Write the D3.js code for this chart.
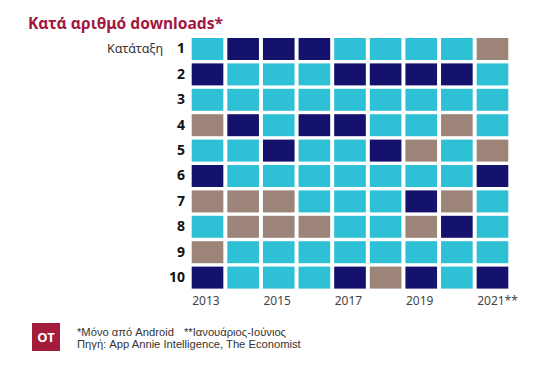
<!DOCTYPE html>
<html><head><meta charset="utf-8">
<script src="https://cdn.jsdelivr.net/npm/d3@7"></script>
<style>html,body{margin:0;padding:0;background:#fff;}svg{display:block;font-family:"Noto Sans","Open Sans",sans-serif;}</style>
</head><body>
<svg id="c" width="554" height="365"></svg>
<script>
const years = ["2013","2014","2015","2016","2017","2018","2019","2020","2021"];
const yearLabels = {"2013":"2013","2015":"2015","2017":"2017","2019":"2019","2021":"2021**"};
const ranks = [1,2,3,4,5,6,7,8,9,10];
// category per rank row, per year (C = cyan, N = navy, T = taupe)
const row1  = ["C","N","N","N","C","C","C","C","T"];
const row2  = ["N","C","C","C","N","N","N","N","C"];
const row3  = ["C","C","C","C","C","C","C","C","C"];
const row4  = ["T","N","C","N","N","C","C","T","C"];
const row5  = ["C","C","N","C","C","N","T","C","T"];
const row6  = ["N","C","C","C","C","C","C","C","N"];
const row7  = ["T","T","T","C","C","C","N","T","C"];
const row8  = ["C","T","T","T","C","C","T","N","C"];
const row9  = ["T","C","C","C","C","C","C","C","C"];
const row10 = ["N","C","C","C","N","T","N","C","N"];
const rows = [row1,row2,row3,row4,row5,row6,row7,row8,row9,row10];
const title = "Κατά αριθμό downloads*";
const rankLabel = "Κατάταξη";
const note1a = "*Μόνο από Android";
const note1b = "**Ιανουάριος-Ιούνιος";
const note2 = "Πηγή: App Annie Intelligence, The Economist";

const svg = d3.select("#c");
const color = d3.scaleOrdinal().domain(["C","N","T"]).range(["#2ec0d4","#14126c","#9c8479"]);
const x = d3.scaleBand().domain(years).range([191.7, 508.3]).paddingInner(0.112).paddingOuter(0);
const y = d3.scaleBand().domain(ranks).range([38, 288.6]).paddingInner(0.134).paddingOuter(0);

const cells = [];
rows.forEach((r,i)=>r.forEach((v,j)=>cells.push({rank:ranks[i], year:years[j], v})));
svg.append("g").selectAll("rect").data(cells).join("rect")
  .attr("x", d=>x(d.year)).attr("y", d=>y(d.rank))
  .attr("width", x.bandwidth()).attr("height", y.bandwidth())
  .attr("fill", d=>color(d.v));

// rank axis
const ay = svg.append("g").attr("transform","translate(185,0)")
  .call(d3.axisLeft(y).tickSize(0).tickPadding(0));
ay.select(".domain").remove();
ay.selectAll("text").attr("font-size",14).attr("font-weight","bold").attr("fill","#111").attr("font-family","'Noto Sans',sans-serif");

// year axis
const ax = svg.append("g").attr("transform","translate(0,296)")
  .call(d3.axisBottom(x).tickSize(0).tickPadding(0).tickFormat(d=>yearLabels[d]||""));
ax.select(".domain").remove();
ax.selectAll(".tick").attr("transform", d=>`translate(${x(d)+0.5},0)`);
ax.selectAll("text").attr("text-anchor","start").attr("font-size",12).attr("fill","#444").attr("font-family","'Noto Sans',sans-serif").attr("dy","0.71em");

svg.append("text").attr("x",28).attr("y",29).text(title)
  .attr("font-size",15.6).attr("font-weight","bold").attr("fill","#a3173f");
svg.append("text").attr("x",163).attr("y",y(1)+y.bandwidth()/2).attr("dy","0.35em")
  .attr("text-anchor","end").text(rankLabel).attr("font-size",12.5).attr("fill","#333");

svg.append("rect").attr("x",32).attr("y",323).attr("width",28).attr("height",28).attr("fill","#a31c3b");
svg.append("text").attr("x",46).attr("y",337).attr("dy","0.36em").attr("text-anchor","middle")
  .text("OT").attr("fill","#fff").attr("font-weight","bold").attr("font-size",13);
const foot = svg.append("g").attr("font-family","'Liberation Sans',Arial,sans-serif").attr("font-size",11.2).attr("fill","#333");
foot.append("text").attr("x",77).attr("y",335.5).text(note1a);
foot.append("text").attr("x",184).attr("y",335.5).text(note1b);
foot.append("text").attr("x",77).attr("y",348.4).text(note2);
</script>
</body></html>
